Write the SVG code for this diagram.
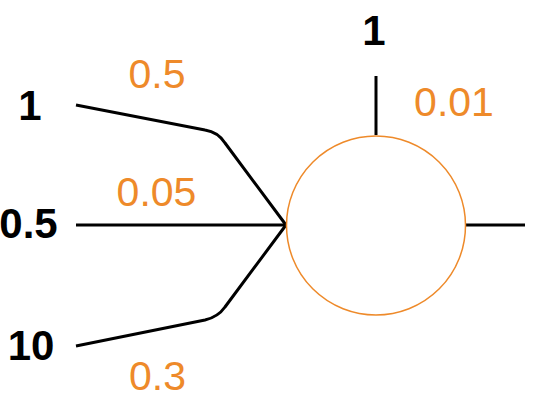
<svg xmlns="http://www.w3.org/2000/svg" width="542" height="408" viewBox="0 0 542 408">
<style>
.conn{fill:none;stroke:#000;stroke-width:3;stroke-linejoin:round}
.in{font-family:"Liberation Sans",Arial,sans-serif;font-size:42px;font-weight:bold;fill:#000;text-anchor:middle}
.w{font-family:"Liberation Sans",Arial,sans-serif;font-size:41px;fill:#EE8A2A;text-anchor:middle}
</style>
<rect width="542" height="408" fill="#fff"/>
<g id="connectors">
<path class="conn" d="M76,105 L205,130 Q218,132 225,143 L286,225"/>
<path class="conn" d="M76,225 L286,225"/>
<path class="conn" d="M76,346 L205,320 Q218,317 225,307 L286,225"/>
<path class="conn" d="M376,76 L376,135"/>
<path class="conn" d="M466,225 L525,225"/>
</g>
<g id="neuron">
<circle cx="376" cy="225.5" r="89.5" fill="#fff" stroke="#EE8A2A" stroke-width="1.5"/>
</g>
<g id="input1"><text class="in" x="30" y="120">1</text></g>
<g id="input2"><text class="in" x="28.5" y="238">0.5</text></g>
<g id="input3"><text class="in" x="31" y="360">10</text></g>
<g id="bias"><text class="in" x="374" y="45">1</text></g>
<g id="weights">
<text class="w" x="157" y="88">0.5</text>
<text class="w" x="156.5" y="206">0.05</text>
<text class="w" x="157.5" y="390">0.3</text>
<text class="w" x="454" y="116">0.01</text>
</g>
</svg>
